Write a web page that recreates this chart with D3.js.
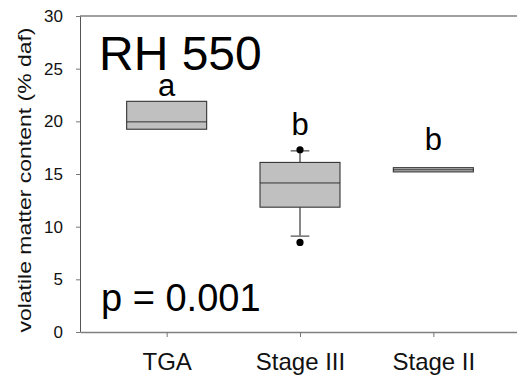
<!DOCTYPE html>
<html>
<head>
<meta charset="utf-8">
<script src="https://cdn.jsdelivr.net/npm/d3@7"></script>
<style>
  body { margin: 0; background: #fff; }
  svg { display: block; font-family: Arial, "Liberation Sans", sans-serif; }
</style>
</head>
<body>
<div id="chart-area"></div>
<script>
// Box plot data
var categories  = ["TGA", "Stage III", "Stage II"];
var q1          = [19.25, 11.85, 15.2];
var median      = [19.95, 14.15, 15.4];
var q3          = [21.9, 16.1, 15.6];
var whiskerLow  = [null, 9.1, null];
var whiskerHigh = [null, 17.2, null];
var outliers    = [[], [8.5, 17.3], []];
var letters     = ["a", "b", "b"];
var letterY     = [22.4, 18.7, 17.3];
var yTicks      = [0, 5, 10, 15, 20, 25, 30];

var width = 517, height = 376;

var svg = d3.select("#chart-area")
  .append("svg")
    .attr("width", width)
    .attr("height", height);

// x: category index on a linear scale, y: value
var x = d3.scaleLinear().domain([0.35, 3.65]).range([80, 520]);
var y = d3.scaleLinear().domain([0, 30]).range([332, 16]);

var boxW = 0.6, capW = 0.14;

var data = categories.map(function(c, i) {
  return { name: c, i: i + 1, q1: q1[i], med: median[i], q3: q3[i],
           lo: whiskerLow[i], hi: whiskerHigh[i], out: outliers[i],
           letter: letters[i], ly: letterY[i] };
});

// Frame: top line
svg.append("line")
  .attr("x1", x(0.35)).attr("x2", x(3.65))
  .attr("y1", y(30)).attr("y2", y(30))
  .attr("stroke", "#808080").attr("stroke-width", 1.6);

// y axis
var yAxis = svg.append("g")
  .attr("transform", "translate(" + x(0.35) + ",0)")
  .call(d3.axisLeft(y).tickValues(yTicks).tickSize(4).tickPadding(13).tickSizeOuter(0));
yAxis.select(".domain").attr("stroke", "#555");
yAxis.selectAll(".tick line").attr("stroke", "#777");
yAxis.selectAll(".tick text").attr("font-size", "17px").attr("fill", "#111")
  .attr("font-family", "Arial, 'Liberation Sans', sans-serif");

// x axis
var xAxis = svg.append("g")
  .attr("transform", "translate(0," + y(0) + ")")
  .call(d3.axisBottom(x).tickValues([1, 2, 3])
    .tickFormat(function(d) { return categories[d - 1]; })
    .tickSize(5).tickPadding(16).tickSizeOuter(0));
xAxis.select(".domain").attr("stroke", "#808080").attr("stroke-width", 1.6);
xAxis.selectAll(".tick line").attr("stroke", "#777");
xAxis.selectAll(".tick text").attr("font-size", "24px").attr("fill", "#111")
  .attr("font-family", "Arial, 'Liberation Sans', sans-serif");

// y label
svg.append("text")
  .attr("transform", "translate(25," + 180 + ") rotate(-90)")
  .attr("text-anchor", "middle")
  .attr("dominant-baseline", "central")
  .attr("font-size", "18px")
  .attr("fill", "#111")
  .attr("textLength", 305)
  .attr("lengthAdjust", "spacingAndGlyphs")
  .text("volatile matter content (% daf)");

var g = svg.selectAll(".box").data(data).enter()
  .append("g").attr("class", "box");

// whiskers
g.filter(function(d) { return d.hi != null; }).each(function(d) {
  var s = d3.select(this);
  s.append("line")
    .attr("x1", x(d.i)).attr("x2", x(d.i))
    .attr("y1", y(d.q3)).attr("y2", y(d.hi))
    .attr("stroke", "#111");
  s.append("line")
    .attr("x1", x(d.i)).attr("x2", x(d.i))
    .attr("y1", y(d.q1)).attr("y2", y(d.lo))
    .attr("stroke", "#111");
  [d.hi, d.lo].forEach(function(v) {
    s.append("line")
      .attr("x1", x(d.i - capW / 2)).attr("x2", x(d.i + capW / 2))
      .attr("y1", y(v)).attr("y2", y(v))
      .attr("stroke", "#777").attr("stroke-width", 1.6);
  });
});

// boxes
g.append("rect")
  .attr("x", function(d) { return x(d.i - boxW / 2); })
  .attr("width", function(d) { return x(d.i + boxW / 2) - x(d.i - boxW / 2); })
  .attr("y", function(d) { return y(d.q3); })
  .attr("height", function(d) { return y(d.q1) - y(d.q3); })
  .attr("fill", "#c0c0c0")
  .attr("stroke", "#333")
  .attr("stroke-width", 1.1);

// medians
g.append("line")
  .attr("x1", function(d) { return x(d.i - boxW / 2); })
  .attr("x2", function(d) { return x(d.i + boxW / 2); })
  .attr("y1", function(d) { return y(d.med); })
  .attr("y2", function(d) { return y(d.med); })
  .attr("stroke", "#333");

// outliers
g.selectAll("circle")
  .data(function(d) { return d.out.map(function(v) { return { i: d.i, v: v }; }); })
  .enter().append("circle")
    .attr("cx", function(d) { return x(d.i); })
    .attr("cy", function(d) { return y(d.v); })
    .attr("r", 3.6)
    .attr("fill", "#000");

// significance letters
g.append("text")
  .attr("x", function(d) { return x(d.i); })
  .attr("y", function(d) { return y(d.ly); })
  .attr("text-anchor", "middle")
  .attr("font-size", "31px")
  .attr("fill", "#000")
  .text(function(d) { return d.letter; });

// annotations
svg.append("text")
  .attr("x", 99).attr("y", 70)
  .attr("font-size", "48px")
  .attr("fill", "#000")
  .text("RH 550");

svg.append("text")
  .attr("x", 101).attr("y", 311)
  .attr("font-size", "38px")
  .attr("fill", "#000")
  .text("p = 0.001");
</script>
</body>
</html>
